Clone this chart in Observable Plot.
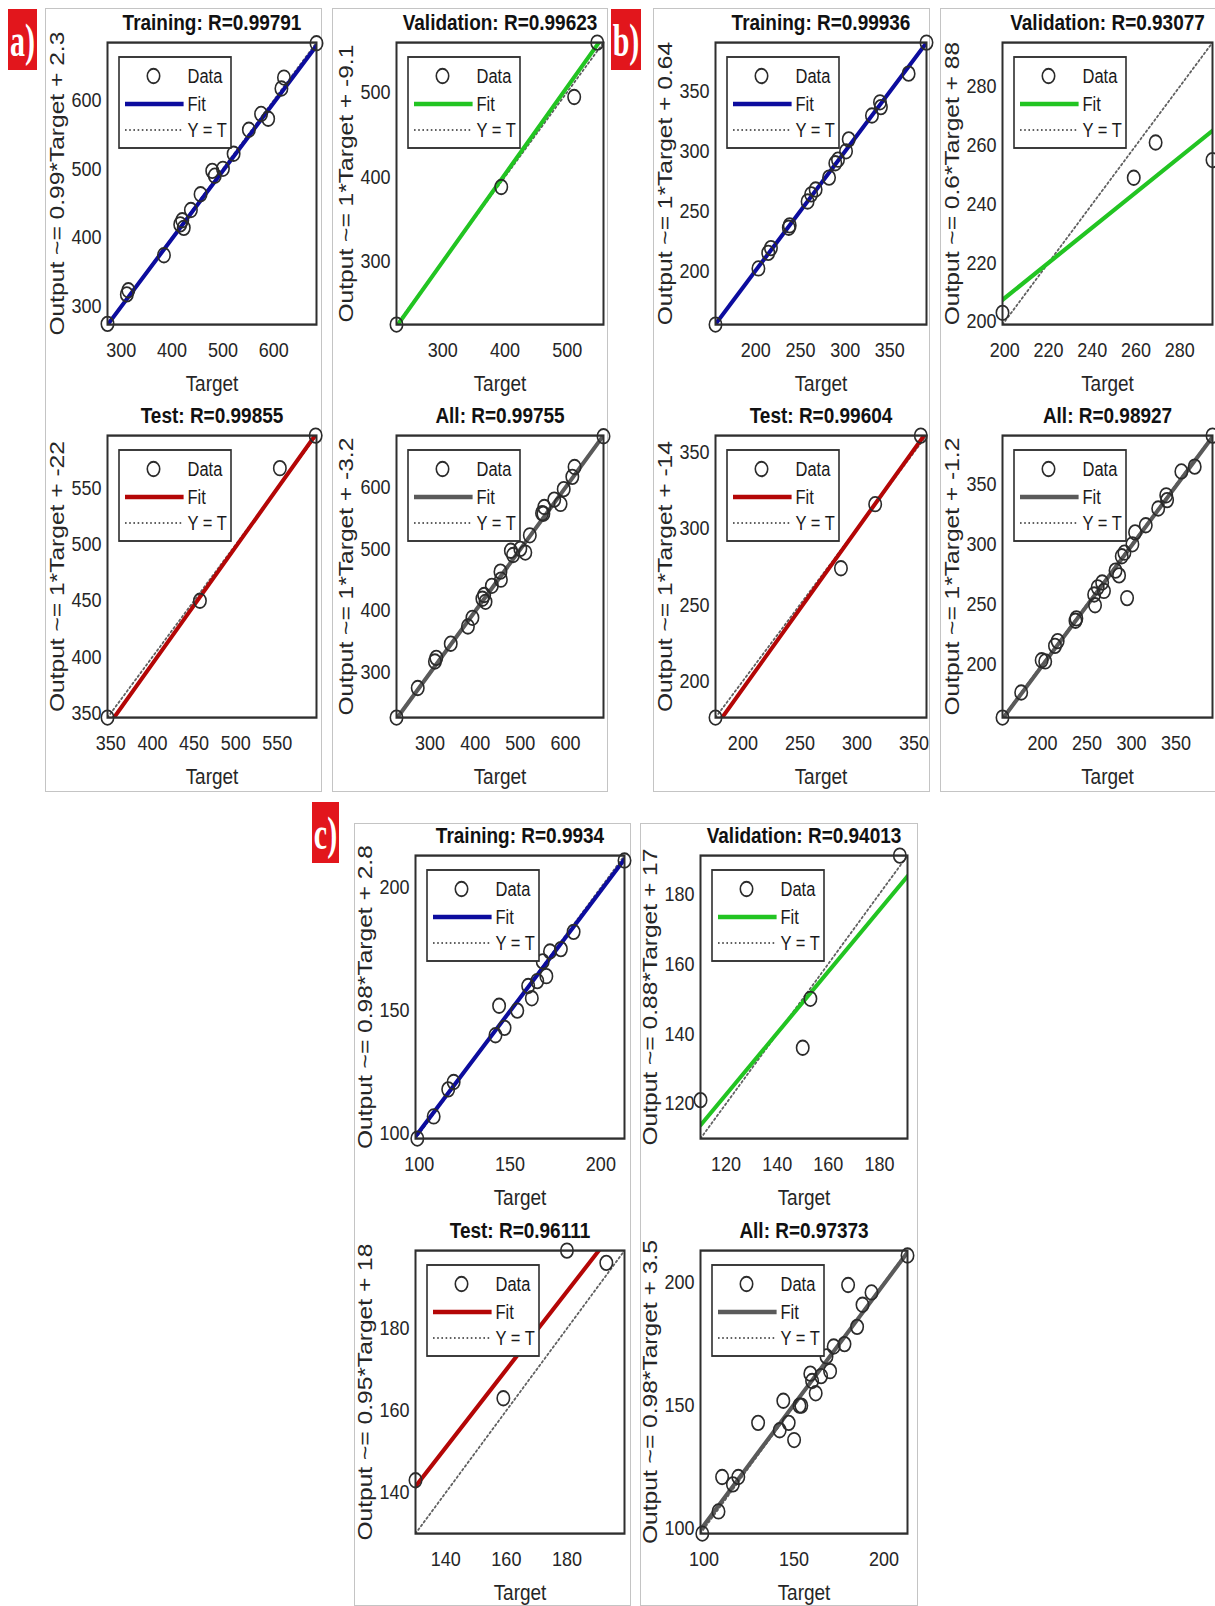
<!DOCTYPE html>
<html><head><meta charset="utf-8">
<script src="https://cdn.jsdelivr.net/npm/d3@7"></script>
<script src="https://cdn.jsdelivr.net/npm/@observablehq/plot@0.6"></script>
<style>
body{margin:0;background:#fff;}
#root{position:relative;width:1215px;height:1606px;overflow:hidden;font-family:"Liberation Sans",Arial,sans-serif;}
.col{position:absolute;border:1px solid #c4c4c4;box-sizing:border-box;}
.tag{position:absolute;background:#e2161c;color:#fff;font-family:"Liberation Serif","Times New Roman",serif;font-weight:bold;display:flex;align-items:center;justify-content:center;overflow:hidden;}
.tag span{display:inline-block;font-size:30px;line-height:1;transform:scaleY(1.55);}
</style></head><body><div id="root"></div><script>
// ---------- data: [target, output] ----------
const aTrain = [[273,274],[311,317],[314,323],[384,374],[416,419],[420,425],[423,414],[437,440],[456,463],[479,497],[484,490],[500,500],[521,522],[551,557],[575,580],[589,573],[615,617],[620,633],[684,683]];
const aVal   = [[226,226],[394,388],[511,494],[548,558]];
const aTest  = [[346,346],[457,450],[553,568],[596,597]];
const bTrain = [[155,155],[203,202],[214,215],[217,219],[237,236],[238,238],[258,258],[262,264],[267,268],[282,278],[289,290],[292,293],[301,300],[304,310],[330,330],[339,341],[340,337],[371,365],[391,391]];
const bVal   = [[199,203],[259,249],[269,261],[295,255]];
const bTest  = [[176,176],[286,274],[316,316],[356,361]];
const cTrain = [[99,98],[108,107],[116,118],[119,121],[142,140],[144,152],[147,143],[154,150],[160,160],[162,155],[165,162],[170,164],[168,170],[172,174],[178,175],[185,182],[213,211]];
const cVal   = [[110,121],[150,136],[153,150],[188,191]];
const cTest  = [[130,143],[159,163],[180,199],[193,196]];

const setNames = ["Training", "Validation", "Test", "All"];
const groupTags = ["a)", "b)", "c)"];

const aR = ["0.99791","0.99623","0.99855","0.99755"];
const bR = ["0.99936","0.93077","0.99604","0.98927"];
const cR = ["0.9934","0.94013","0.96111","0.97373"];

const aFitLabel = ["0.99*Target + 2.3","1*Target + -9.1","1*Target + -22","1*Target + -3.2"];
const bFitLabel = ["1*Target + 0.64","0.6*Target + 88","1*Target + -14","1*Target + -1.2"];
const cFitLabel = ["0.98*Target + 2.8","0.88*Target + 17","0.95*Target + 18","0.98*Target + 3.5"];

const aSlope = [0.99, 1.03, 1.04, 1.005];  const aIntercept = [2.3, -9.1, -22, -3.2];
const bSlope = [0.998, 0.6, 1.045, 1.0];   const bIntercept = [0.64, 88, -14, -1.2];
const cSlope = [0.98, 0.88, 0.95, 0.98];   const cIntercept = [2.8, 17, 18, 3.5];

const aTicks = [[300,400,500,600],[300,400,500],[350,400,450,500,550],[300,400,500,600]];
const bTicks = [[200,250,300,350],[200,220,240,260,280],[200,250,300,350],[200,250,300,350]];
const cTicks = [[100,150,200],[120,140,160,180],[140,160,180],[100,150,200]];

// ---------- styling / layout ----------
const S = 1.17; // vertical stretch of the original figure
const lineColors = ["#0c0c9e", "#22c422", "#b40606", "#5a5a5a"];
const FONT = '"Liberation Sans", Arial, sans-serif';
const layouts = [
  {tag:[8,9,29,61],   cols:[[45,277,107,316],[332,276,396,603]],  top:8,   colH:784, axTop:[42,435],   axH:282},
  {tag:[611,9,30,61], cols:[[653,277,715,926],[940,276,1002,1212]], top:8, colH:784, axTop:[42,435],   axH:282},
  {tag:[312,802,27,61], cols:[[354,277,415,624],[640,278,700,907]], top:823, colH:783, axTop:[855,1250], axH:283}
];

const root = document.getElementById("root");

function panel({data, slope, intercept, color, ticks, title, ylab, colX, colW, axL, axR, axTop, axH}) {
  const lo = d3.min(data, d => Math.min(d[0], d[1]));
  const hi = d3.max(data, d => Math.max(d[0], d[1]));
  const mt = 34, mb = 70;
  const fit = [lo, hi].map(x => [x, slope * x + intercept]);
  const diag = [[lo, lo], [hi, hi]];
  const ml = axL - colX, mr = colX + colW - axR;
  const svg = Plot.plot({
    width: colW, height: (mt + axH + mb) / S,
    marginLeft: ml, marginRight: mr, marginTop: mt / S, marginBottom: mb / S,
    x: {domain: [lo, hi]},
    y: {domain: [lo, hi]},
    style: {fontFamily: FONT, fontSize: "18px", color: "#262626", background: "transparent", overflow: "visible"},
    marks: [
      Plot.axisX(ticks, {tickSize: 0, tickPadding: 17 / S, label: null, tickFormat: d => String(d)}),
      Plot.axisY(ticks, {tickSize: 0, tickPadding: 6, label: null, tickFormat: d => String(d)}),
      Plot.line(diag, {x: d => d[0], y: d => d[1], stroke: "#606060", strokeWidth: 1.7, strokeDasharray: "1.6,2.6", clip: true}),
      Plot.line(fit, {x: d => d[0], y: d => d[1], stroke: color, strokeWidth: 3.8, clip: true}),
      Plot.dot(data, {x: d => d[0], y: d => d[1], r: 6.2, stroke: "#2b2b2b", strokeWidth: 1.6}),
      Plot.frame({stroke: "#2f2f2f", strokeWidth: 2}),
      Plot.text([title], {frameAnchor: "top", textAnchor: "middle", lineAnchor: "bottom", dy: -10.5, fontWeight: "bold", fontSize: 19, fill: "#111"}),
      Plot.text([ylab], {frameAnchor: "left", textAnchor: "middle", rotate: -90, dx: -50, lineAnchor: "middle", fontSize: 21}),
      Plot.text(["Target"], {frameAnchor: "bottom", textAnchor: "middle", lineAnchor: "top", dy: 51 / S, fontSize: 19})
    ]
  });
  // legend (top-left inside the axes)
  const g = d3.select(svg).append("g")
    .attr("transform", `translate(${ml + 12},${mt / S + 15 / S})`)
    .attr("font-family", FONT).attr("font-size", 16.5).attr("fill", "#1a1a1a")
    .attr("text-anchor", "start");
  g.append("rect").attr("width", 112).attr("height", 91 / S)
    .attr("fill", "#fff").attr("stroke", "#2f2f2f").attr("stroke-width", 1.6);
  g.append("circle").attr("cx", 34.5).attr("cy", 19 / S).attr("r", 6.2)
    .attr("fill", "none").attr("stroke", "#2b2b2b").attr("stroke-width", 1.6);
  g.append("line").attr("x1", 6).attr("x2", 64.6).attr("y1", 47 / S).attr("y2", 47 / S)
    .attr("stroke", color).attr("stroke-width", 3.8);
  g.append("line").attr("x1", 6).attr("x2", 64.6).attr("y1", 73 / S).attr("y2", 73 / S)
    .attr("stroke", "#606060").attr("stroke-width", 1.7).attr("stroke-dasharray", "1.6,2.6");
  [["Data", 19], ["Fit", 47], ["Y = T", 73]].forEach(([t, y]) =>
    g.append("text").attr("x", 68.5).attr("y", y / S).attr("dy", "0.35em").attr("text-anchor", "start").text(t));
  Object.assign(svg.style, {
    position: "absolute", left: colX + "px", top: (axTop - mt) + "px",
    transform: `scaleY(${S})`, transformOrigin: "0 0", maxWidth: "none"
  });
  root.appendChild(svg);
}

const groups = [
  {sets: [aTrain, aVal, aTest], R: aR, fitLabel: aFitLabel, slope: aSlope, intercept: aIntercept, ticks: aTicks},
  {sets: [bTrain, bVal, bTest], R: bR, fitLabel: bFitLabel, slope: bSlope, intercept: bIntercept, ticks: bTicks},
  {sets: [cTrain, cVal, cTest], R: cR, fitLabel: cFitLabel, slope: cSlope, intercept: cIntercept, ticks: cTicks}
];

groups.forEach((grp, gi) => {
  const L = layouts[gi];
  L.cols.forEach(([x, w]) => {
    const d = document.createElement("div");
    d.className = "col";
    Object.assign(d.style, {left: x + "px", top: L.top + "px", width: w + "px", height: L.colH + "px"});
    root.appendChild(d);
  });
  const t = document.createElement("div");
  t.className = "tag";
  const [tx, ty, tw, th] = L.tag;
  Object.assign(t.style, {left: tx + "px", top: ty + "px", width: tw + "px", height: th + "px"});
  t.innerHTML = `<span>${groupTags[gi]}</span>`;
  root.appendChild(t);

  const all = grp.sets[0].concat(grp.sets[1], grp.sets[2]);
  const datasets = [...grp.sets, all];
  datasets.forEach((data, i) => {
    const col = L.cols[i % 2], row = Math.floor(i / 2);
    panel({
      data, slope: grp.slope[i], intercept: grp.intercept[i], color: lineColors[i],
      ticks: grp.ticks[i], title: `${setNames[i]}: R=${grp.R[i]}`, ylab: `Output ~= ${grp.fitLabel[i]}`,
      colX: col[0], colW: col[1], axL: col[2], axR: col[3], axTop: L.axTop[row], axH: L.axH
    });
  });
});
</script></body></html>
